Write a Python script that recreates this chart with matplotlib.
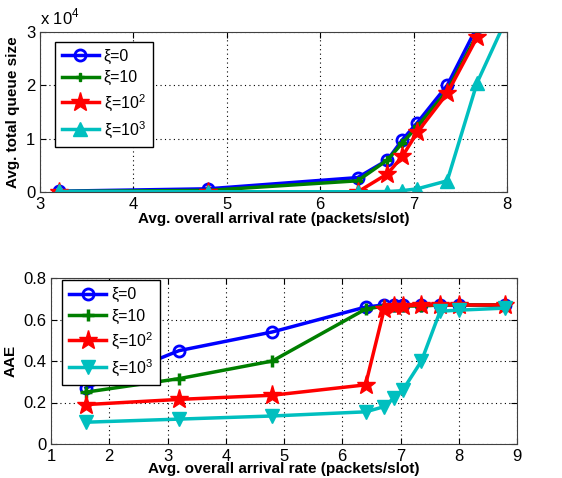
import matplotlib
matplotlib.use('Agg')
import matplotlib.pyplot as plt

plt.rcParams['font.family'] = ['Liberation Sans', 'DejaVu Sans']
plt.rcParams['mathtext.fontset'] = 'custom'
plt.rcParams['mathtext.rm'] = 'Liberation Sans'

# top panel: queue size
rate_top = [3.2, 4.8, 6.4, 6.72, 6.88, 7.04, 7.36, 7.68]
rate_top_cyan = [3.2, 4.8, 6.4, 6.72, 6.88, 7.04, 7.36, 7.68, 8.0]
queue_xi0 = [150, 600, 2700, 6000, 9800, 13000, 20000, 31000]
queue_xi10 = [100, 300, 2100, 6000, 9200, 12300, 19000, 29500]
queue_xi100 = [0, 0, 0, 3400, 6700, 11200, 18500, 29000]
queue_xi1000 = [100, 50, 50, 80, 250, 600, 2100, 20500, 32700]

# bottom panel: AAE
rate_bot = [1.6, 3.2, 4.8, 6.4, 6.72, 6.88, 7.04, 7.36, 7.68, 8.0, 8.8]
aae_xi0 = [0.27, 0.45, 0.54, 0.66, 0.67, 0.67, 0.67, 0.67, 0.67, 0.67, 0.67]
aae_xi10 = [0.25, 0.315, 0.40, 0.65, 0.665, 0.665, 0.665, 0.665, 0.67, 0.67, 0.67]
aae_xi100 = [0.19, 0.215, 0.235, 0.285, 0.65, 0.665, 0.665, 0.67, 0.67, 0.67, 0.67]
aae_xi1000 = [0.105, 0.12, 0.135, 0.155, 0.18, 0.22, 0.26, 0.40, 0.64, 0.645, 0.655]

labels = ['ξ=0', 'ξ=10', 'ξ=10$^2$', 'ξ=10$^3$']
blue, green, red, cyan = '#0000ff', '#007f00', '#ff0000', '#00bfbf'

fig = plt.figure(figsize=(5.62, 4.78), dpi=100)
W, H = 562.0, 478.0
ax1 = fig.add_axes([40 / W, 1 - 192 / H, 467 / W, 160 / H])
ax2 = fig.add_axes([51 / W, 1 - 444 / H, 466 / W, 166 / H])

lw = 2.5
ax1.plot(rate_top, queue_xi0, color=blue, lw=lw, marker='o', ms=8, mfc='none', mew=2, label=labels[0])
ax1.plot(rate_top, queue_xi10, color=green, lw=lw, marker='P', ms=6, label=labels[1])
ax1.plot(rate_top, queue_xi100, color=red, lw=lw, marker='*', ms=14, label=labels[2])
ax1.plot(rate_top_cyan, queue_xi1000, color=cyan, lw=lw, marker='^', ms=10, label=labels[3])
ax1.set_xlim(3, 8)
ax1.set_ylim(0, 30000)
ax1.set_xticks([3, 4, 5, 6, 7, 8])
ax1.set_yticks([0, 10000, 20000, 30000])
ax1.set_yticklabels(['0', '1', '2', '3'])
ax1.text(0.0, 1.03, 'x 10$^4$', transform=ax1.transAxes, fontsize=12, ha='left', va='bottom')
ax1.set_xlabel('Avg. overall arrival rate (packets/slot)', fontsize=11, fontweight='bold', labelpad=0)
ax1.set_ylabel('Avg. total queue size', fontsize=11, fontweight='bold', labelpad=4)
ax1.legend(loc='upper left', bbox_to_anchor=(0.032, 0.94), borderaxespad=0, fontsize=11.5,
           fancybox=False, edgecolor='black', framealpha=1, handlelength=2.3,
           handletextpad=0.3, borderpad=0.45, labelspacing=0.4)

ax2.plot(rate_bot, aae_xi0, color=blue, lw=lw, marker='o', ms=8, mfc='none', mew=2, label=labels[0])
ax2.plot(rate_bot, aae_xi10, color=green, lw=lw, marker='+', ms=9, mew=2.5, label=labels[1])
ax2.plot(rate_bot, aae_xi100, color=red, lw=lw, marker='*', ms=14, label=labels[2])
ax2.plot(rate_bot, aae_xi1000, color=cyan, lw=lw, marker='v', ms=10, label=labels[3])
ax2.set_xlim(1, 9)
ax2.set_ylim(0, 0.8)
ax2.set_xticks(range(1, 10))
ax2.set_yticks([0, 0.2, 0.4, 0.6, 0.8])
ax2.set_yticklabels(['0', '0.2', '0.4', '0.6', '0.8'])
ax2.set_xlabel('Avg. overall arrival rate (packets/slot)', fontsize=11, fontweight='bold', labelpad=-1)
ax2.set_ylabel('AAE', fontsize=11, fontweight='bold', labelpad=4)
ax2.legend(loc='upper left', bbox_to_anchor=(0.024, 0.988), borderaxespad=0, fontsize=11.5,
           fancybox=False, edgecolor='black', framealpha=1, handlelength=2.3,
           handletextpad=0.3, borderpad=0.45, labelspacing=0.4)

for ax in (ax1, ax2):
    ax.grid(True, color='black', linestyle=(0, (1, 3)), lw=0.8)
    ax.tick_params(direction='in', labelsize=12, length=4, top=True, right=True)
    for s in ax.spines.values():
        s.set_color('#404040')
        s.set_linewidth(0.8)

fig.savefig('out.png', dpi=100)
